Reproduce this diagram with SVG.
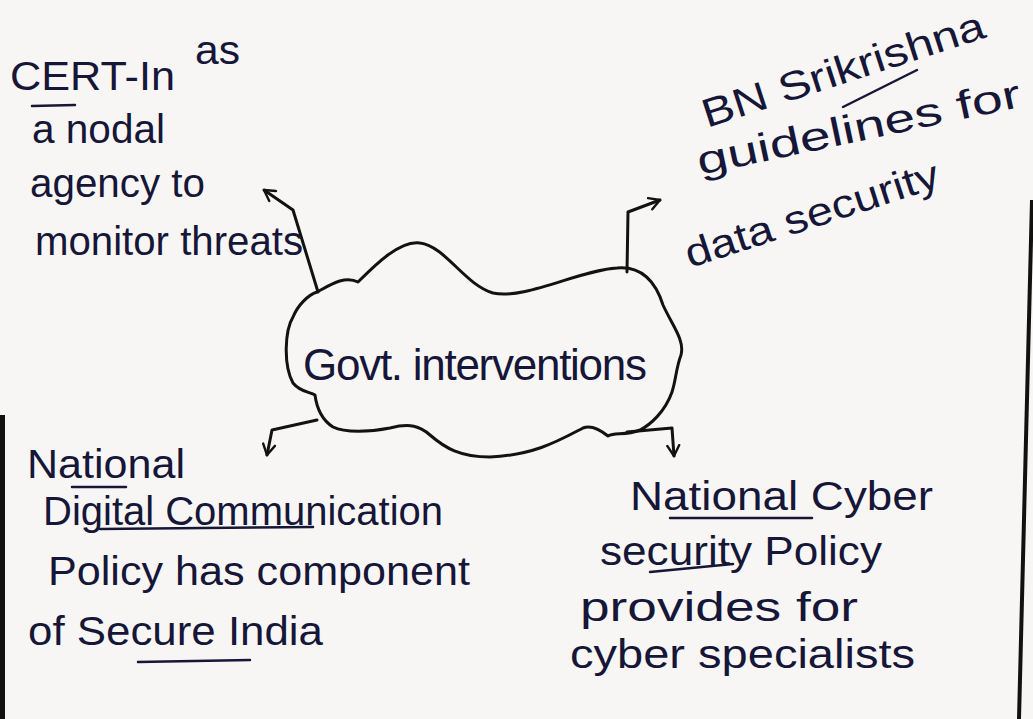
<svg xmlns="http://www.w3.org/2000/svg" width="1033" height="719" viewBox="0 0 1033 719">
<style>
.ink{font-family:"Liberation Sans","DejaVu Sans",sans-serif;fill:#161638;}
.t{font-size:40px;}
.c{font-size:44px;}
.ln{fill:none;stroke:#121212;stroke-width:3;stroke-linecap:round;stroke-linejoin:round;}
.ul{fill:none;stroke:#161638;stroke-width:2.5;stroke-linecap:round;}
</style>
<defs>
<marker id="ah" viewBox="0 0 10 10" refX="8" refY="5" markerWidth="5" markerHeight="5" orient="auto" markerUnits="strokeWidth">
<path d="M1,1 L8,5 L1,9" fill="none" stroke="#121212" stroke-width="1.6" stroke-linecap="round" stroke-linejoin="round"/>
</marker>
</defs>
<rect x="0" y="0" width="1033" height="719" fill="#f8f6f4"/>
<rect x="0" y="415" width="5" height="304" fill="#111"/>
<line x1="1032" y1="200" x2="1019" y2="719" stroke="#111" stroke-width="4"/>

<g id="connectors">
<path class="ln" d="M318,292 L293,210 L264,190" marker-end="url(#ah)"/>
<path class="ln" d="M627,272 L628,212 L660,200" marker-end="url(#ah)"/>
<path class="ln" d="M317,420 L272,430 L267,455" marker-end="url(#ah)"/>
<path class="ln" d="M627,432 L672,428 L674,456" marker-end="url(#ah)"/>
</g>

<g id="node-center">
<path class="ln" d="M317,292 C330,285 345,275 358,282 C375,265 400,240 420,243 C445,246 465,285 493,293 C525,300 580,270 617,268 C640,266 655,280 663,305 C672,325 685,340 681,355 C676,368 676,380 672,392 C665,412 650,425 640,430 C625,436 615,432 608,436 C598,428 590,425 583,428 C560,440 535,455 490,457 C460,457 445,448 430,435 C420,426 410,423 390,428 C370,432 345,433 333,427 C322,420 317,410 315,395 C310,392 300,392 293,383 C283,365 285,330 293,317 C298,305 308,295 317,292 Z"/>
<text class="ink c" x="303" y="380" textLength="344" lengthAdjust="spacing">Govt. interventions</text>
</g>

<g id="node-cert">
<text class="ink t" x="10" y="90" textLength="165" lengthAdjust="spacingAndGlyphs">CERT-In</text>
<text class="ink t" x="195" y="64" textLength="45" lengthAdjust="spacingAndGlyphs">as</text>
<line class="ul" x1="32" y1="106" x2="75" y2="105"/>
<text class="ink t" x="32" y="143" textLength="133" lengthAdjust="spacingAndGlyphs">a nodal</text>
<text class="ink t" x="30" y="197" textLength="175" lengthAdjust="spacingAndGlyphs">agency to</text>
<text class="ink t" x="35" y="255" textLength="268" lengthAdjust="spacingAndGlyphs">monitor threats</text>
</g>

<g id="node-bn">
<text class="ink t" transform="translate(707,128) rotate(-18)" textLength="295" lengthAdjust="spacingAndGlyphs">BN Srikrishna</text>
<line class="ul" x1="843" y1="107" x2="917" y2="70"/>
<text class="ink t" transform="translate(700,175) rotate(-12)" textLength="330" lengthAdjust="spacingAndGlyphs">guidelines for</text>
<text class="ink t" transform="translate(690,268) rotate(-18)" textLength="265" lengthAdjust="spacingAndGlyphs">data security</text>
</g>

<g id="node-ndcp">
<text class="ink t" x="27" y="478" textLength="158" lengthAdjust="spacingAndGlyphs">National</text>
<line class="ul" x1="72" y1="487" x2="126" y2="487"/>
<text class="ink t" x="43" y="525" textLength="400" lengthAdjust="spacingAndGlyphs">Digital Communication</text>
<line class="ul" x1="100" y1="529" x2="313" y2="527"/>
<text class="ink t" x="48" y="585" textLength="422" lengthAdjust="spacingAndGlyphs">Policy has component</text>
<text class="ink t" x="28" y="645" textLength="295" lengthAdjust="spacingAndGlyphs">of Secure India</text>
<line class="ul" x1="138" y1="662" x2="250" y2="660"/>
</g>

<g id="node-ncsp">
<text class="ink t" x="630" y="510" textLength="303" lengthAdjust="spacingAndGlyphs">National Cyber</text>
<line class="ul" x1="670" y1="518" x2="812" y2="518"/>
<text class="ink t" x="600" y="565" textLength="282" lengthAdjust="spacingAndGlyphs">security Policy</text>
<line class="ul" x1="650" y1="572" x2="733" y2="564"/>
<text class="ink t" x="580" y="621" textLength="278" lengthAdjust="spacingAndGlyphs">provides for</text>
<text class="ink t" x="570" y="668" textLength="345" lengthAdjust="spacingAndGlyphs">cyber specialists</text>
</g>
</svg>
